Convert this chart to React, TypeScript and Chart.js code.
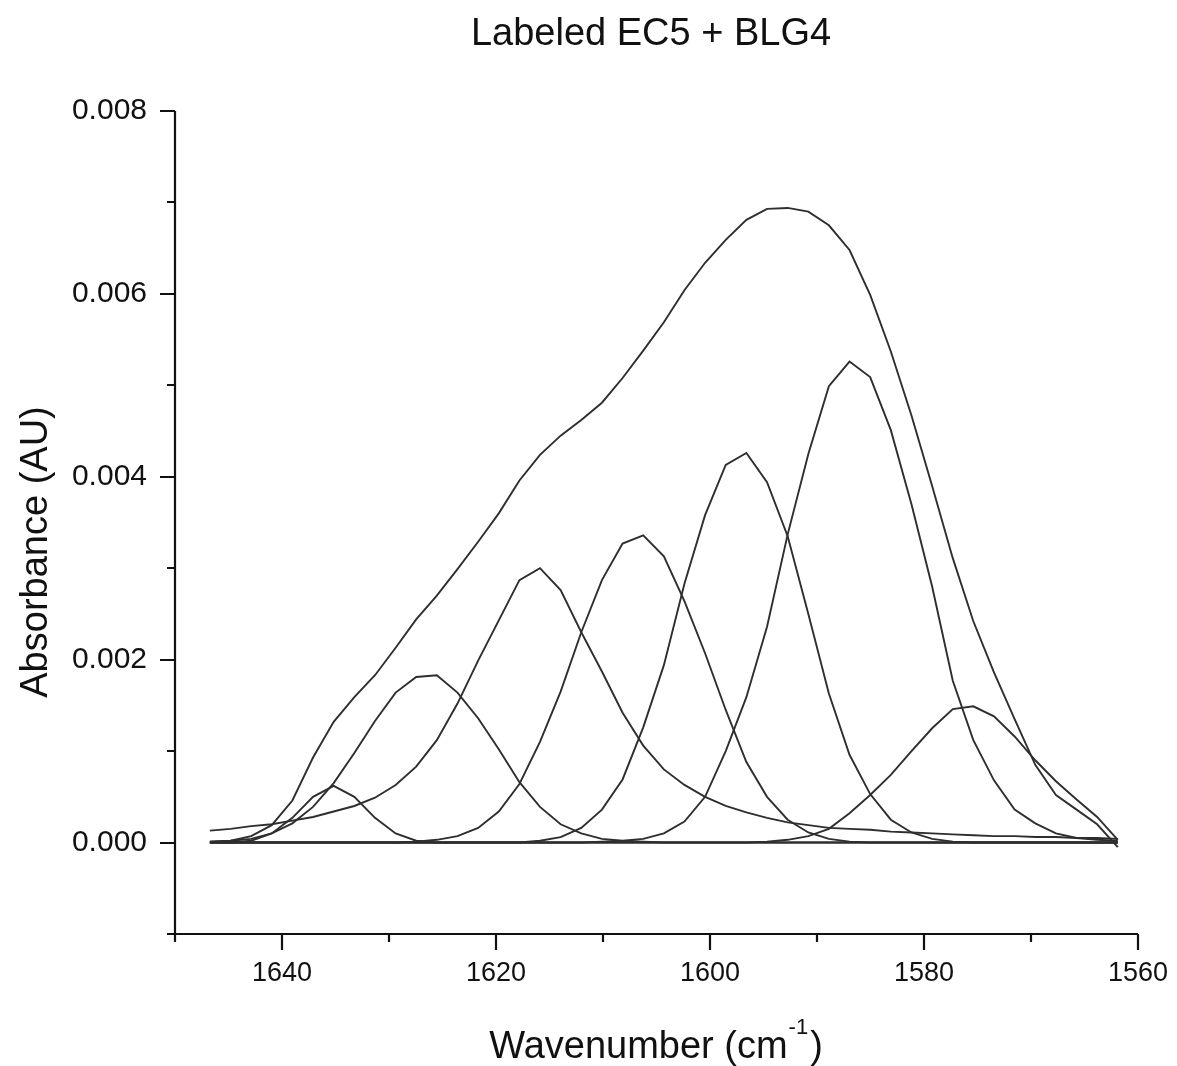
import React, { useEffect, useRef } from 'react';
import { Chart, registerables } from 'chart.js';

Chart.register(...registerables);

// ---------- data ----------
const wavenumbers = [
  1646.74, 1644.81, 1642.88, 1640.96, 1639.03, 1637.10, 1635.17, 1633.24, 1631.31, 1629.38,
  1627.46, 1625.53, 1623.60, 1621.67, 1619.74, 1617.81, 1615.89, 1613.96, 1612.03, 1610.10,
  1608.17, 1606.24, 1604.31, 1602.39, 1600.46, 1598.53, 1596.60, 1594.67, 1592.74, 1590.81,
  1588.89, 1586.96, 1585.03, 1583.10, 1581.17, 1579.24, 1577.31, 1575.39, 1573.46, 1571.53,
  1569.60, 1567.67, 1565.74, 1563.82, 1561.89,
];

const measuredSpectrum = [
  0.00001, 0.00002, 0.00007, 0.00019, 0.00046, 0.00093, 0.00132, 0.00159, 0.00183, 0.00213,
  0.00244, 0.00270, 0.00299, 0.00329, 0.00360, 0.00396, 0.00424, 0.00445, 0.00462, 0.00481,
  0.00508, 0.00538, 0.00569, 0.00604, 0.00634, 0.00659, 0.00681, 0.00693, 0.00694, 0.00690,
  0.00675, 0.00648, 0.00599, 0.00537, 0.00467, 0.00390, 0.00311, 0.00242, 0.00186, 0.00135,
  0.00085, 0.00052, 0.00036, 0.00020, -0.00005,
];

const band1635 = [
  0, 0, 0.00002, 0.00010, 0.00027, 0.00050, 0.00062, 0.00050, 0.00027, 0.00010,
  0.00002, 0, 0, 0, 0, 0, 0, 0, 0, 0,
  0, 0, 0, 0, 0, 0, 0, 0, 0, 0,
  0, 0, 0, 0, 0, 0, 0, 0, 0, 0,
  0, 0, 0, 0, 0,
];

const band1626 = [
  0.00001, 0.00002, 0.00004, 0.00010, 0.00021, 0.00039, 0.00065, 0.00098, 0.00133, 0.00164,
  0.00181, 0.00183, 0.00164, 0.00136, 0.00102, 0.00066, 0.00039, 0.00020, 0.00010, 0.00004,
  0.00002, 0.00001, 0, 0, 0, 0, 0, 0, 0, 0,
  0, 0, 0, 0, 0, 0, 0, 0, 0, 0,
  0, 0, 0, 0, 0,
];

const band1616 = [
  0.00013, 0.00015, 0.00018, 0.00020, 0.00024, 0.00028, 0.00034, 0.00040, 0.00049, 0.00063,
  0.00083, 0.00112, 0.00152, 0.00199, 0.00243, 0.00287, 0.00300, 0.00276, 0.00230, 0.00187,
  0.00142, 0.00106, 0.00080, 0.00063, 0.00050, 0.00040, 0.00033, 0.00027, 0.00022, 0.00019,
  0.00016, 0.00015, 0.00014, 0.00012, 0.00011, 0.00010, 0.00009, 0.00008, 0.00007, 0.00007,
  0.00006, 0.00006, 0.00005, 0.00005, 0.00004,
];

const band1606 = [
  0, 0, 0, 0, 0, 0, 0, 0, 0, 0,
  0.00001, 0.00003, 0.00007, 0.00016, 0.00034, 0.00064, 0.00110, 0.00165, 0.00230, 0.00287,
  0.00327, 0.00336, 0.00313, 0.00264, 0.00207, 0.00145, 0.00088, 0.00050, 0.00025, 0.00011,
  0.00004, 0.00001, 0, 0, 0, 0, 0, 0, 0, 0,
  0, 0, 0, 0, 0,
];

const band1597 = [
  0, 0, 0, 0, 0, 0, 0, 0, 0, 0,
  0, 0, 0, 0, 0, 0, 0.00002, 0.00006, 0.00016, 0.00036,
  0.00069, 0.00126, 0.00194, 0.00283, 0.00358, 0.00413, 0.00426, 0.00394, 0.00335, 0.00250,
  0.00163, 0.00096, 0.00053, 0.00025, 0.00011, 0.00004, 0.00001, 0, 0, 0,
  0, 0, 0, 0, 0,
];

const band1587 = [
  0, 0, 0, 0, 0, 0, 0, 0, 0, 0,
  0, 0, 0, 0, 0, 0, 0, 0, 0, 0.00001,
  0.00002, 0.00004, 0.00010, 0.00023, 0.00050, 0.00100, 0.00159, 0.00236, 0.00337, 0.00425,
  0.00499, 0.00526, 0.00509, 0.00451, 0.00370, 0.00280, 0.00177, 0.00112, 0.00068, 0.00036,
  0.00021, 0.00010, 0.00005, 0.00003, 0.00002,
];

const band1576 = [
  0, 0, 0, 0, 0, 0, 0, 0, 0, 0,
  0, 0, 0, 0, 0, 0, 0, 0, 0, 0,
  0, 0, 0, 0, 0, 0, 0, 0.00001, 0.00003, 0.00007,
  0.00015, 0.00032, 0.00052, 0.00074, 0.00100, 0.00125, 0.00146, 0.00149, 0.00138, 0.00116,
  0.00090, 0.00067, 0.00047, 0.00028, 0.00003,
];

const allSeries = [
  measuredSpectrum, band1635, band1626, band1616, band1606, band1597, band1587, band1576,
];

const xLabeledTicks = [1640, 1620, 1600, 1580, 1560];
const yLabeledTicks = [0, 0.002, 0.004, 0.006, 0.008];

const chartTitle = 'Labeled EC5 + BLG4';
const xTitleMain = 'Wavenumber (cm';
const xTitleSup = '-1';
const xTitleEnd = ')';
const yTitle = 'Absorbance (AU)';

// ---------- styles ----------
const FONT = "'Liberation Sans', Arial, Helvetica, sans-serif";
const INK = '#111111';
const CURVE = '#2e2e2e';

const isLabeledX = (v: number) => xLabeledTicks.some((t) => Math.abs(t - v) < 1e-6);
const isLabeledY = (v: number) => yLabeledTicks.some((t) => Math.abs(t - v) < 1e-7);

const decorPlugin = {
  id: 'decor',
  afterDraw(chart: any) {
    const { ctx, chartArea: a, scales } = chart;
    const xs = scales.x;
    const ys = scales.y;
    ctx.save();
    ctx.strokeStyle = INK;
    ctx.lineWidth = 2.2;
    ctx.lineCap = 'butt';
    ctx.beginPath();
    ctx.moveTo(a.left, a.top);
    ctx.lineTo(a.left, a.bottom);
    ctx.lineTo(a.right, a.bottom);
    ctx.stroke();

    ctx.beginPath();
    xs.ticks.forEach((t: any) => {
      const px = Math.round(xs.getPixelForValue(t.value));
      const len = isLabeledX(t.value) ? 16 : 8;
      ctx.moveTo(px, a.bottom);
      ctx.lineTo(px, a.bottom + len);
    });
    ys.ticks.forEach((t: any) => {
      const py = Math.round(ys.getPixelForValue(t.value));
      const len = isLabeledY(t.value) ? 15 : 8;
      ctx.moveTo(a.left, py);
      ctx.lineTo(a.left - len, py);
    });
    ctx.stroke();

    ctx.fillStyle = INK;
    ctx.textBaseline = 'alphabetic';

    // chart title
    ctx.font = `38px ${FONT}`;
    ctx.textAlign = 'center';
    ctx.fillText(chartTitle, 651, 45);

    // x axis title with superscript
    ctx.textAlign = 'left';
    ctx.font = `38px ${FONT}`;
    const w1 = ctx.measureText(xTitleMain).width;
    const w3 = ctx.measureText(xTitleEnd).width;
    ctx.font = `22px ${FONT}`;
    const w2 = ctx.measureText(xTitleSup).width;
    const total = w1 + w2 + 3 + w3;
    const sx = 656 - total / 2;
    ctx.font = `38px ${FONT}`;
    ctx.fillText(xTitleMain, sx, 1058);
    ctx.font = `22px ${FONT}`;
    ctx.fillText(xTitleSup, sx + w1 + 1, 1034);
    ctx.font = `38px ${FONT}`;
    ctx.fillText(xTitleEnd, sx + w1 + w2 + 3, 1058);

    // y axis title
    ctx.save();
    ctx.translate(47, 552);
    ctx.rotate(-Math.PI / 2);
    ctx.textAlign = 'center';
    ctx.font = `38px ${FONT}`;
    ctx.fillText(yTitle, 0, 0);
    ctx.restore();

    ctx.restore();
  },
};

export default function App() {
  const canvasRef = useRef<HTMLCanvasElement | null>(null);

  useEffect(() => {
    const canvas = canvasRef.current;
    if (!canvas) return;
    const datasets = allSeries.map((series, i) => ({
      label: `series ${i}`,
      data: wavenumbers.map((w, j) => ({ x: w, y: series[j] })),
      borderColor: CURVE,
      borderWidth: 1.9,
      pointRadius: 0,
      pointHoverRadius: 0,
      fill: false,
      tension: 0,
    }));

    const chart = new Chart(canvas, {
      type: 'line',
      data: { datasets },
      options: {
        animation: false,
        responsive: false,
        devicePixelRatio: 1,
        events: [],
        layout: { padding: { left: 0, right: 39, top: 111, bottom: 0 } },
        plugins: {
          legend: { display: false },
          title: { display: false },
          tooltip: { enabled: false },
        },
        scales: {
          x: {
            type: 'linear',
            reverse: true,
            min: 1560,
            max: 1650,
            afterFit: (s: any) => {
              s.height = 132;
            },
            grid: { display: false, drawTicks: true, tickLength: 15 },
            border: { display: false },
            ticks: {
              stepSize: 10,
              autoSkip: false,
              maxRotation: 0,
              padding: 8,
              color: INK,
              font: { family: FONT, size: 27 },
              callback: (v: any) => (isLabeledX(Number(v)) ? String(Math.round(Number(v))) : ''),
            },
          },
          y: {
            type: 'linear',
            min: -0.001,
            max: 0.008,
            afterFit: (s: any) => {
              s.width = 175;
            },
            grid: { display: false, drawTicks: true, tickLength: 15 },
            border: { display: false },
            ticks: {
              stepSize: 0.001,
              autoSkip: false,
              padding: 13,
              color: INK,
              font: { family: FONT, size: 30 },
              callback: (v: any) => (isLabeledY(Number(v)) ? Number(v).toFixed(3) : ''),
            },
          },
        },
      },
      plugins: [decorPlugin],
    } as any);

    return () => {
      chart.destroy();
    };
  }, []);

  return (
    <div
      style={{
        position: 'absolute',
        left: 0,
        top: 0,
        width: 1177,
        height: 1066,
        background: '#ffffff',
      }}
    >
      <canvas
        ref={canvasRef}
        width={1177}
        height={1066}
        style={{ display: 'block', width: 1177, height: 1066 }}
      />
    </div>
  );
}
